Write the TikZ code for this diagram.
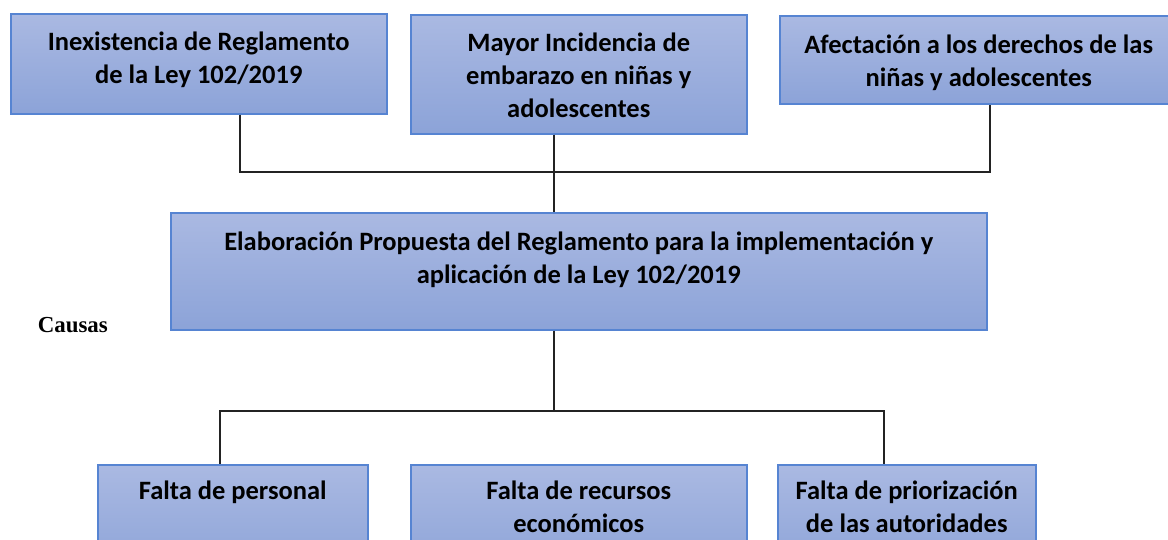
\documentclass[tikz,border=0pt]{standalone}
\usepackage{fontspec}
\setmainfont{Carlito}
\newfontfamily\causafont{Liberation Serif}
\usepackage{xcolor}
\definecolor{cajaTop}{RGB}{170,185,226}
\definecolor{cajaBottom}{RGB}{140,163,216}
\definecolor{cajaBorde}{RGB}{86,132,210}
\definecolor{lineaGris}{RGB}{35,35,35}
\usepackage{tikz}
\usetikzlibrary{positioning,calc}
\tikzset{
    caja/.style={
        draw=cajaBorde,
        top color=cajaTop,
        bottom color=cajaBottom,
        rectangle,
        line width=1.5pt,
        inner sep=0pt,
        anchor=north west
    },
    texto/.style={
        align=center,
        inner sep=0pt,
        anchor=north,
        font=\bfseries\fontsize{26.5}{33}\selectfont
    },
    linea/.style={
        draw=lineaGris,
        line width=1.8pt
    }
}

\begin{document}
\begin{tikzpicture}[x=1pt,y=-1pt]
    \clip (0,0) rectangle (1168,539);

    % Efectos
    \node[caja, minimum width=376pt, minimum height=100pt] (inex) at (10,13) {};
    \node[caja, minimum width=336pt, minimum height=119pt] (mayor) at (410,14) {};
    \node[caja, minimum width=398pt, minimum height=88pt] (afect) at (779,15) {};
    \node[texto, below=19pt of inex.north] (inexT) {Inexistencia de Reglamento\\de la Ley 102/2019};
    \node[texto, below=19pt of mayor.north] (mayorT) {Mayor Incidencia de\\embarazo en niñas y\\adolescentes};
    \node[texto, below=20pt of afect.north] (afectT) {Afectación a los derechos de las\\niñas y adolescentes};

    % Problema central
    \node[caja, minimum width=816pt, minimum height=117pt] (elab) at (170,212) {};
    \node[texto, below=20pt of elab.north] (elabT) {Elaboración Propuesta del Reglamento para la implementación y\\aplicación de la Ley 102/2019};
    \node[font=\causafont\bfseries\fontsize{22.9}{27}\selectfont, anchor=base east, inner sep=0pt] (causas) at (108,332) {Causas};

    % Causas
    \node[caja, minimum width=270pt, minimum height=110pt] (falta1) at (97,464) {};
    \node[caja, minimum width=336pt, minimum height=110pt] (falta2) at (410,464) {};
    \node[caja, minimum width=258pt, minimum height=110pt] (falta3) at (777,464) {};
    \node[texto, below=17pt of falta1.north] (falta1T) {Falta de personal};
    \node[texto, below=17pt of falta2.north] (falta2T) {Falta de recursos\\económicos};
    \node[texto, below=17pt of falta3.north] (falta3T) {Falta de priorización\\de las autoridades};

    % Conexiones
    \coordinate (bsup) at (554,172);
    \coordinate (binf) at (554,411);
    \draw[linea] ([xshift=230pt]inex.south west) |- (bsup) -| ([xshift=211pt]afect.south west);
    \draw[linea] ([xshift=144pt]mayor.south west) -- ([xshift=384pt]elab.north west);
    \draw[linea] ([xshift=384pt]elab.south west) -- (binf);
    \draw[linea] ([xshift=123pt]falta1.north west) |- (binf) -| ([xshift=107pt]falta3.north west);
\end{tikzpicture}
\end{document}
